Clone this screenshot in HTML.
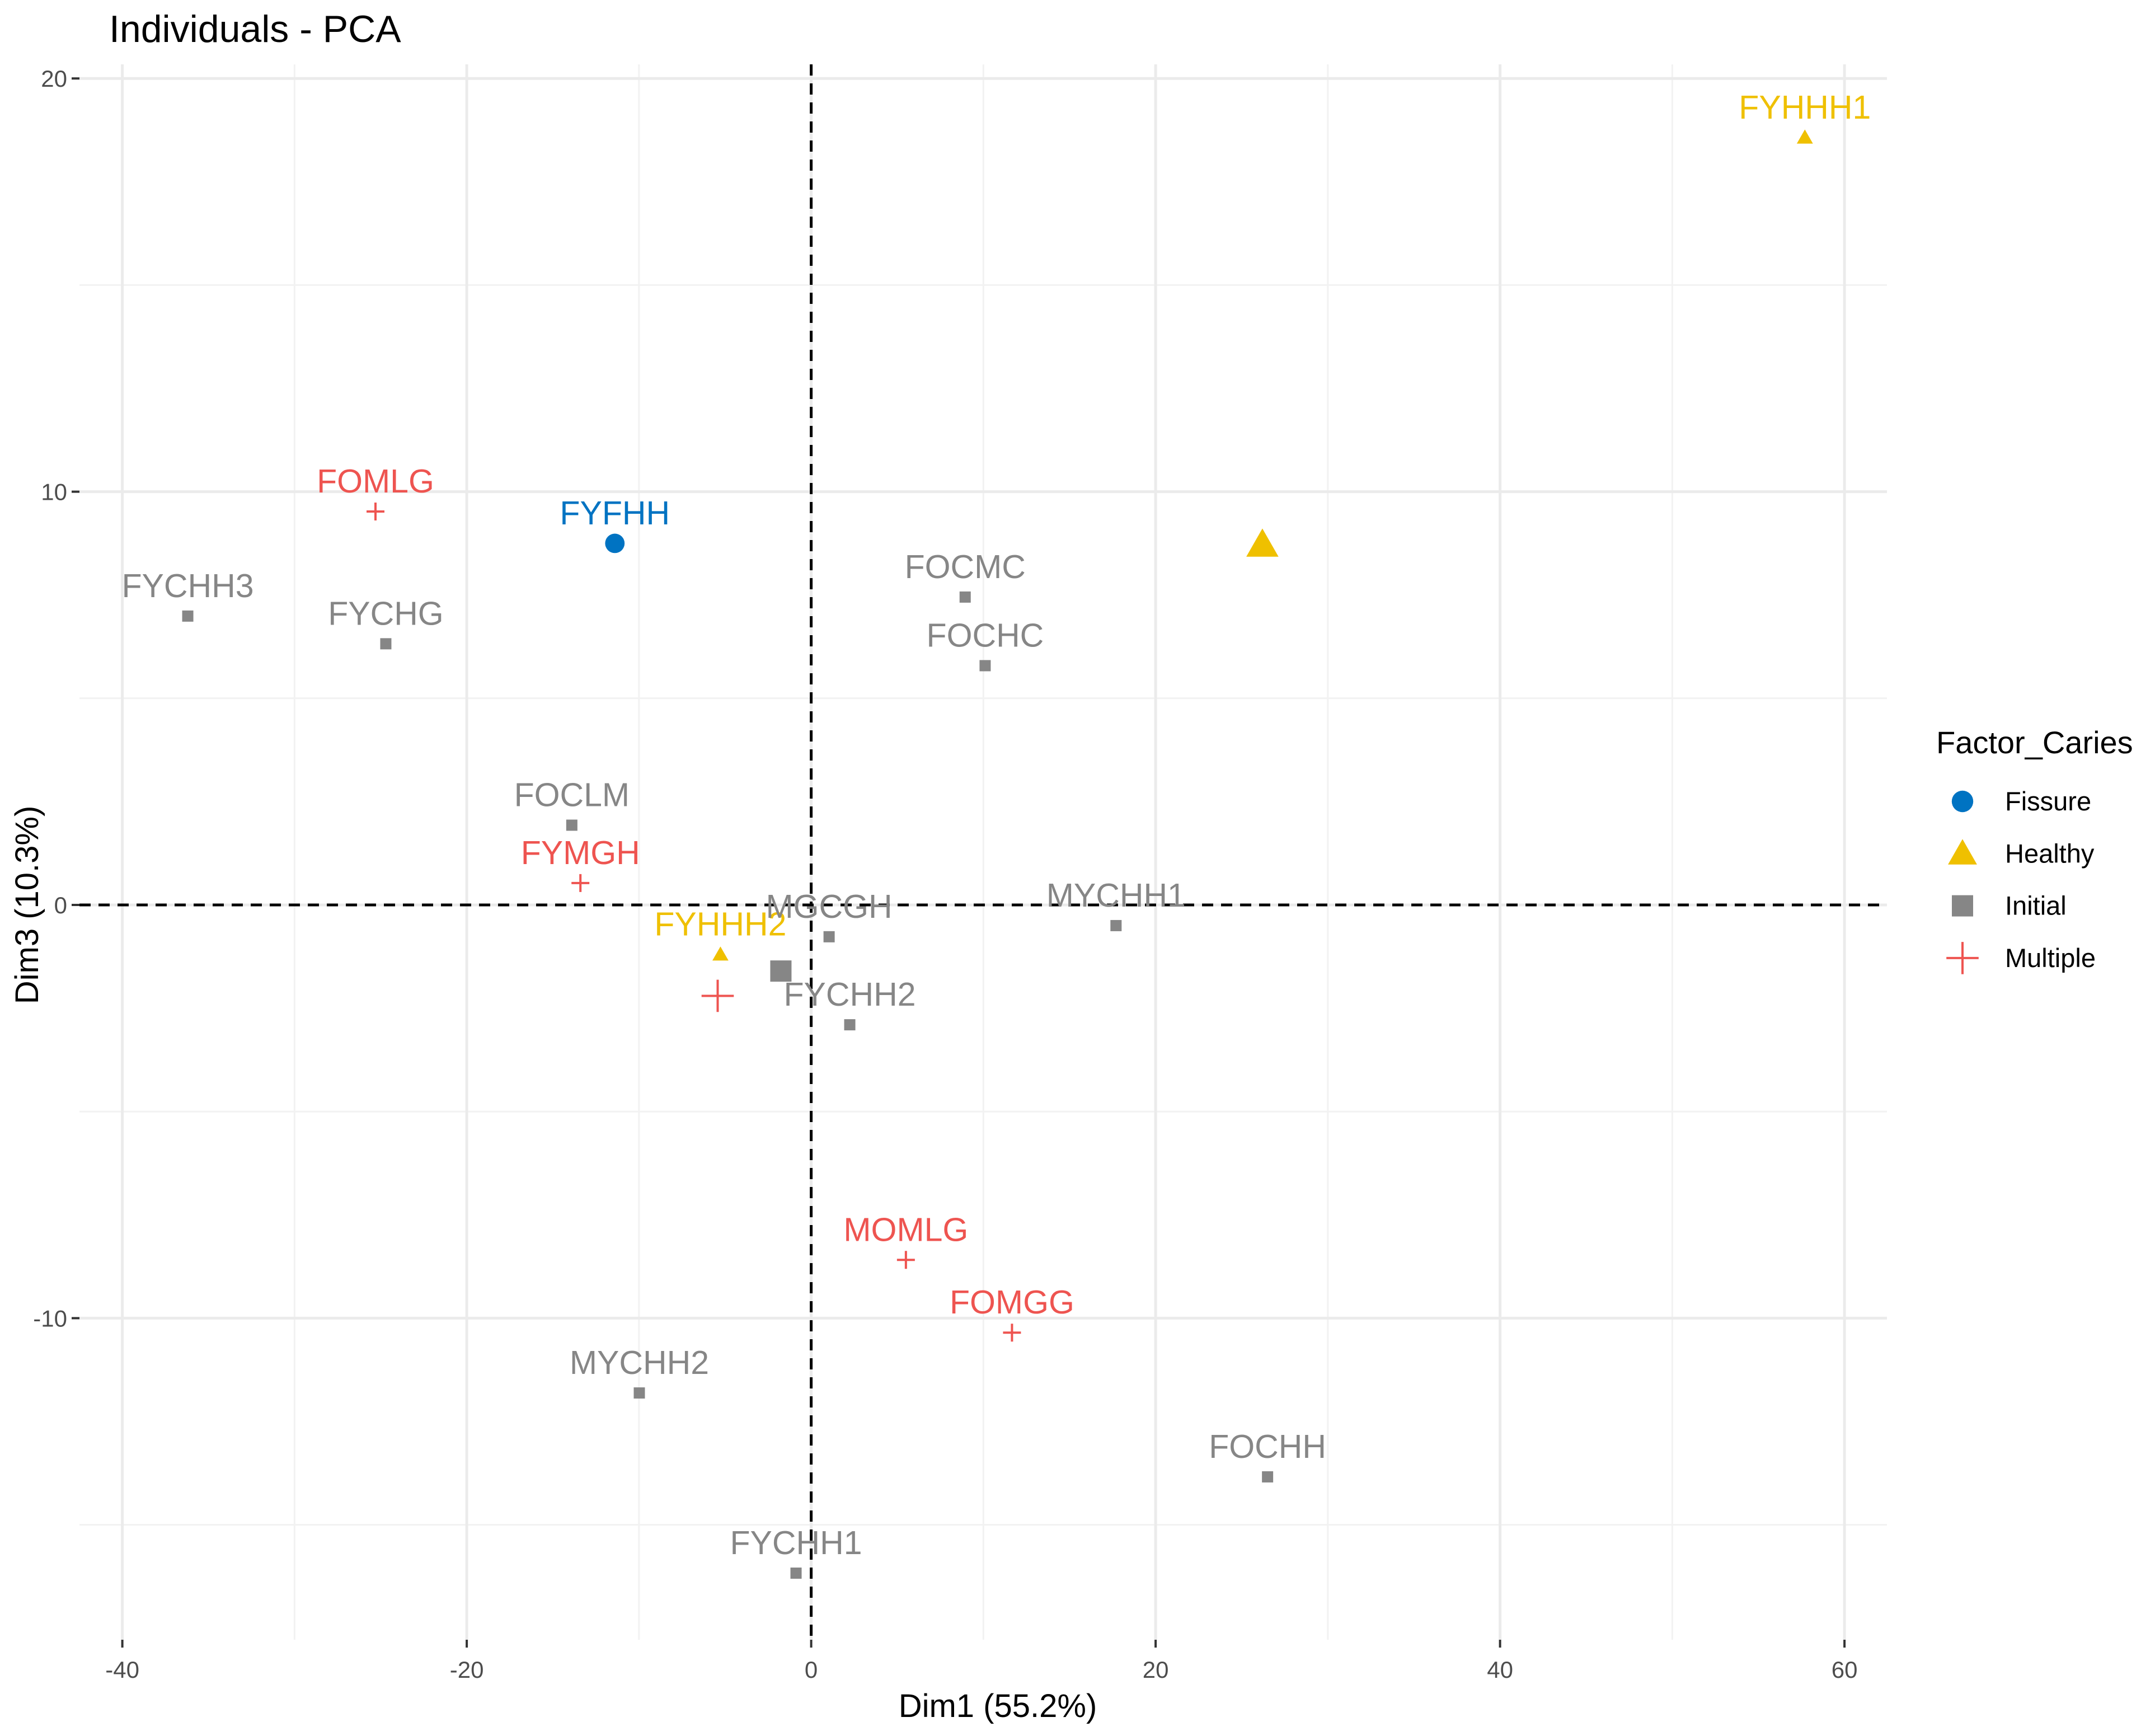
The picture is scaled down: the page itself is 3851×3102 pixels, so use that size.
<!DOCTYPE html>
<html><head><meta charset="utf-8">
<style>
html,body{margin:0;padding:0;background:#fff;}
svg{display:block;font-family:"Liberation Sans",Arial,sans-serif;}
</style></head>
<body>
<svg id="chart" width="3851" height="3102" viewBox="0 0 3851 3102" xmlns="http://www.w3.org/2000/svg">
<rect width="3851" height="3102" fill="#fff"/>
<text x="195" y="75" font-size="68" fill="#000">Individuals - PCA</text>
<g id="grid"></g>
<g id="axes"></g>
<g id="marks"></g>
<text x="1783" y="3068" font-size="58" text-anchor="middle" fill="#000">Dim1 (55.2%)</text>
<text transform="translate(68,1617) rotate(-90)" font-size="58" text-anchor="middle" fill="#000">Dim3 (10.3%)</text>
<g id="legend"></g>
</svg>
<script>
const labels = ["FYHHH1","FOMLG","FYFHH","FYCHH3","FYCHG","FOCMC","FOCHC","FOCLM","FYMGH","FYHHH2","MGCGH","FYCHH2","MYCHH1","MOMLG","FOMGG","MYCHH2","FOCHH","FYCHH1"];
const dim1 = [57.7,-25.3,-11.4,-36.2,-24.7,8.94,10.1,-13.9,-13.4,-5.27,1.04,2.24,17.7,5.5,11.66,-9.98,26.5,-0.88];
const dim3 = [18.57,9.52,8.75,6.99,6.32,7.45,5.79,1.93,0.53,-1.2,-0.77,-2.9,-0.5,-8.59,-10.35,-11.81,-13.84,-16.17];
const groups = ["Healthy","Multiple","Fissure","Initial","Initial","Initial","Initial","Initial","Multiple","Healthy","Initial","Initial","Initial","Multiple","Multiple","Initial","Initial","Initial"];
const centroidGroups = ["Healthy","Initial","Multiple","Fissure"];
const centroidX = [26.2,-1.76,-5.43,-11.4];
const centroidY = [8.72,-1.6,-2.2,8.75];
const xTicks = [-40,-20,0,20,40,60];
const yTicks = [-10,0,10,20];
const xMinor = [-30,-10,10,30,50];
const yMinor = [-15,-5,5,15];
const legendItems = ["Fissure","Healthy","Initial","Multiple"];

const colors = {Fissure:"#0073C2",Healthy:"#EFC000",Initial:"#868686",Multiple:"#EE5450"};
const NS = "http://www.w3.org/2000/svg";
const PL=142, PR=3372, PT=115, PB=2930;
function sx(v){return 1449.6 + v*30.775;}
function sy(v){return 1617 - v*73.84;}
function mk(tag, attrs, parent){const e=document.createElementNS(NS,tag);for(const k in attrs)e.setAttribute(k,attrs[k]);parent.appendChild(e);return e;}
const grid=document.getElementById('grid'), axes=document.getElementById('axes'), marks=document.getElementById('marks'), legend=document.getElementById('legend');

xMinor.forEach(v=>{const l=mk('line',{x1:sx(v),x2:sx(v),y1:PT,y2:PB,stroke:"#f2f2f2","stroke-width":3},grid);

});
yMinor.forEach(v=>{const l=mk('line',{x1:PL,x2:PR,y1:sy(v),y2:sy(v),stroke:"#f2f2f2","stroke-width":3},grid);

});
xTicks.forEach(v=>{const l=mk('line',{x1:sx(v),x2:sx(v),y1:PT,y2:PB,stroke:"#ebebeb","stroke-width":5},grid);


const t=mk('line',{x1:sx(v),x2:sx(v),y1:PB,y2:PB+14,stroke:"#333","stroke-width":4},axes);


const tx=mk('text',{x:sx(v),y:2998,"font-size":42,"text-anchor":"middle",fill:"#4d4d4d"},axes);tx.textContent=v;

});
yTicks.forEach(v=>{const l=mk('line',{x1:PL,x2:PR,y1:sy(v),y2:sy(v),stroke:"#ebebeb","stroke-width":5},grid);


const t=mk('line',{x1:PL-14,x2:PL,y1:sy(v),y2:sy(v),stroke:"#333","stroke-width":4},axes);


const tx=mk('text',{x:PL-22,y:sy(v)+15,"font-size":42,"text-anchor":"end",fill:"#4d4d4d"},axes);tx.textContent=v;

});
const h0=mk('line',{x1:PL,x2:PR,y1:sy(0),y2:sy(0),stroke:"#000","stroke-width":5,"stroke-dasharray":"20 14"},axes);


const v0=mk('line',{x1:sx(0),x2:sx(0),y1:PT,y2:PB,stroke:"#000","stroke-width":5,"stroke-dasharray":"20 14"},axes);



function shape(g,cx,cy,size,parent){
  const c=colors[g]; let e;
  if(g==="Fissure"){e=mk('circle',{cx:cx,cy:cy,r:size*0.6,fill:c},parent);}
  else if(g==="Healthy"){const h=size*1.2;e=mk('polygon',{points:`${cx},${cy-h*0.6} ${cx-h*0.6},${cy+h*0.45} ${cx+h*0.6},${cy+h*0.45}`,fill:c},parent);}
  else if(g==="Initial"){e=mk('rect',{x:cx-size/2,y:cy-size/2,width:size,height:size,fill:c},parent);}
  else {e=mk('path',{d:`M${cx-size*0.8},${cy}H${cx+size*0.8}M${cx},${cy-size*0.8}V${cy+size*0.8}`,stroke:c,"stroke-width":4,fill:"none"},parent);}
  return e;
}
labels.forEach((lab,i)=>{
  const px=sx(dim1[i]), py=sy(dim3[i]);
  const m=shape(groups[i],px,py,groups[i]==="Fissure"?29:20,marks);
  
  
  const t=mk('text',{x:px,y:py-34,"font-size":59,"text-anchor":"middle",fill:colors[groups[i]]},marks);
  t.textContent=lab;
  
  
});
centroidGroups.forEach((g,i)=>{
  if(g==="Fissure") return;
  const m=shape(g,sx(centroidX[i]),sy(centroidY[i]),g==="Initial"?38:(g==="Healthy"?40:36),marks);
  
  
});
const lt=mk('text',{x:3460,y:1346,"font-size":56,fill:"#000"},legend);lt.textContent="Factor_Caries";


legendItems.forEach((g,i)=>{
  const y=1432+i*93.3;
  const s=shape(g,3507,y,g==="Fissure"?32:(g==="Initial"?38:36),legend);
  
  
  const t=mk('text',{x:3583,y:y+16,"font-size":47,fill:"#000"},legend);t.textContent=g;
  
  
});
</script>
</body></html>
